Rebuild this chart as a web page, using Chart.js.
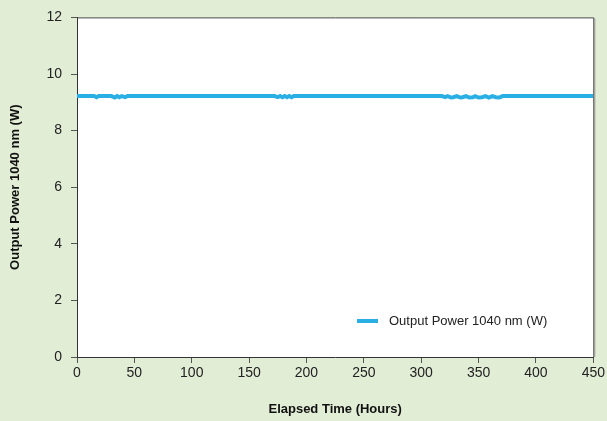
<!DOCTYPE html>
<html lang="en">
<head>
  <meta charset="UTF-8">
  <title>Output Power 1040 nm</title>
  <script src="https://cdn.jsdelivr.net/npm/chart.js"></script>
  <style>
    html, body { margin: 0; padding: 0; background: #e2edd6; }
    .wrap { width: 607px; height: 421px; }
  </style>
</head>
<body>
  <div class="wrap"><canvas id="chart" width="607" height="421"></canvas></div>

  <script>
    // elapsed time (hours) and measured power (W)
    const hours = [0, 5, 10, 15, 17, 19, 22, 25, 30, 33, 35, 37, 39, 42, 44, 48, 55, 65, 75, 85, 95,
      105, 115, 125, 135, 145, 155, 165, 172, 175, 177, 179, 181, 183, 185, 187, 189, 192, 200,
      210, 220, 230, 240, 250, 260, 270, 280, 290, 300, 310, 318, 321, 323, 326, 328, 331, 334,
      336, 339, 342, 345, 347, 350, 353, 356, 359, 362, 365, 368, 371, 374, 380, 390, 400, 410,
      420, 430, 440, 450];
    const power = [9.22, 9.22, 9.22, 9.22, 9.18, 9.22, 9.22, 9.22, 9.22, 9.17, 9.22, 9.18, 9.22, 9.18, 9.22, 9.22, 9.22, 9.22, 9.22, 9.22, 9.22,
      9.22, 9.22, 9.22, 9.22, 9.22, 9.22, 9.22, 9.22, 9.18, 9.22, 9.18, 9.22, 9.18, 9.22, 9.18, 9.22, 9.22, 9.22,
      9.22, 9.22, 9.22, 9.22, 9.22, 9.22, 9.22, 9.22, 9.22, 9.22, 9.22, 9.22, 9.18, 9.22, 9.17, 9.18, 9.22, 9.17,
      9.18, 9.22, 9.17, 9.18, 9.22, 9.17, 9.18, 9.22, 9.17, 9.22, 9.18, 9.17, 9.22, 9.22, 9.22, 9.22, 9.22, 9.22,
      9.22, 9.22, 9.22, 9.22];
    const seriesName = 'Output Power 1040 nm (W)';

    const points = hours.map((h, i) => ({ x: h, y: power[i] }));

    // white plot area + frame on top/right
    const plotFrame = {
      id: 'plotFrame',
      beforeDraw(chart) {
        const { ctx, chartArea: a } = chart;
        ctx.save();
        ctx.fillStyle = '#ffffff';
        ctx.fillRect(a.left, a.top, a.right - a.left, a.bottom - a.top);
        ctx.restore();
      },
      afterDraw(chart) {
        const { ctx, chartArea: a } = chart;
        ctx.save();
        ctx.strokeStyle = '#444';
        ctx.lineWidth = 1;
        ctx.beginPath();
        ctx.moveTo(a.left, a.top + 0.5);
        ctx.lineTo(a.right + 0.5, a.top + 0.5);
        ctx.lineTo(a.right + 0.5, a.bottom);
        ctx.stroke();
        ctx.strokeStyle = '#999';
        ctx.beginPath();
        ctx.moveTo(a.right + 1.5, a.top + 1);
        ctx.lineTo(a.right + 1.5, a.bottom);
        ctx.stroke();

        // legend inside plot area
        const ds = chart.data.datasets[0];
        const lx = 357, ly = 321;
        ctx.strokeStyle = ds.borderColor;
        ctx.lineWidth = 4;
        ctx.beginPath();
        ctx.moveTo(lx, ly);
        ctx.lineTo(lx + 21, ly);
        ctx.stroke();
        ctx.fillStyle = '#222';
        ctx.font = '13px "Liberation Sans", Arial, sans-serif';
        ctx.textBaseline = 'middle';
        ctx.fillText(ds.label, lx + 32, ly);
        ctx.restore();
      }
    };

    const tickFont = { family: '"Liberation Sans", Arial, sans-serif', size: 14 };
    const titleFont = { family: '"Liberation Sans", Arial, sans-serif', size: 13, weight: 'bold' };

    new Chart(document.getElementById('chart').getContext('2d'), {
      type: 'line',
      data: {
        datasets: [{
          label: seriesName,
          data: points,
          borderColor: '#2aafe4',
          borderWidth: 4,
          tension: 0,
          pointRadius: 0,
        }]
      },
      options: {
        responsive: false,
        animation: false,
        layout: { padding: { left: 0, right: 12, top: 16, bottom: 0 } },
        scales: {
          x: {
            type: 'linear',
            min: 0, max: 450,
            afterFit(s) { s.height = 64; },
            ticks: { stepSize: 50, color: '#222', font: tickFont, padding: 2 },
            grid: { drawOnChartArea: false, color: '#555', tickLength: 6 },
            border: { color: '#333', width: 1 },
            title: { display: true, text: 'Elapsed Time (Hours)', color: '#111', font: titleFont, padding: { top: 8 } }
          },
          y: {
            min: 0, max: 12,
            afterFit(s) { s.width = 77; },
            ticks: { stepSize: 2, color: '#222', font: tickFont, padding: 9 },
            grid: { drawOnChartArea: false, color: '#555', tickLength: 6 },
            border: { color: '#333', width: 1 },
            title: { display: true, text: 'Output Power 1040 nm (W)', color: '#111', font: titleFont, padding: { top: 8, bottom: 0 } }
          }
        },
        plugins: { legend: { display: false }, tooltip: { enabled: false } }
      },
      plugins: [plotFrame]
    });
  </script>
</body>
</html>
